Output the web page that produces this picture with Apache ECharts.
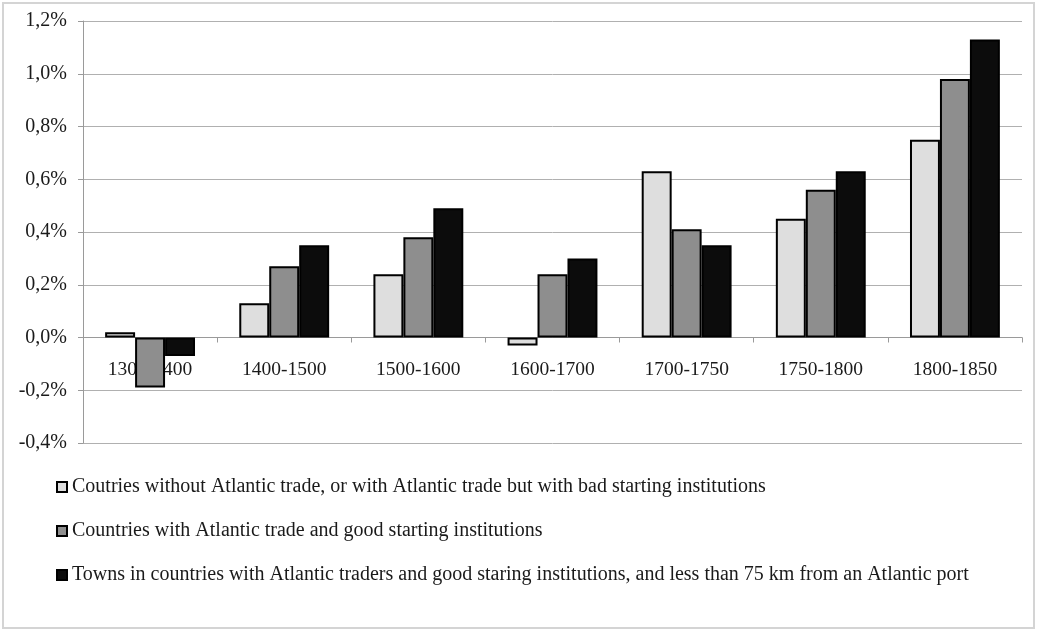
<!DOCTYPE html>
<html>
<head>
<meta charset="utf-8">
<script src="https://cdn.jsdelivr.net/npm/echarts@6/dist/echarts.min.js"></script>
<style>
html,body{margin:0;padding:0;background:#fff;}
#c{width:1038px;height:630px;}
</style>
</head>
<body>
<div id="c"></div>
<script>
const categories = ['1300-1400','1400-1500','1500-1600','1600-1700','1700-1750','1750-1800','1800-1850'];
const seriesNames = [
  'Coutries without Atlantic trade, or with Atlantic trade but with bad starting institutions',
  'Countries with Atlantic trade and good starting institutions',
  'Towns in countries with Atlantic traders and good staring institutions, and less than 75 km from an Atlantic port'
];
const noAtlantic = [0.02, 0.13, 0.24, -0.03, 0.63, 0.45, 0.75];
const atlanticGood = [-0.19, 0.27, 0.38, 0.24, 0.41, 0.56, 0.98];
const townsNearPort = [-0.07, 0.35, 0.49, 0.30, 0.35, 0.63, 1.13];
const yTicks = { min: -0.4, max: 1.2, interval: 0.2 };
const colors = ['#dedede', '#8e8e8e', '#0c0c0c'];

const chart = echarts.init(document.getElementById('c'), null, {renderer: 'canvas'});
const font = 'Liberation Serif';
const mk = (name, data, color) => ({
  name, type: 'bar', data,
  barGap: '0%', barCategoryGap: '33%',
  itemStyle: { color, borderColor: '#000', borderWidth: 2 },
  emphasis: { disabled: true }
});
chart.setOption({
  animation: false,
  textStyle: { fontFamily: font },
  graphic: [{
    type: 'rect', shape: { x: 3, y: 3, width: 1031, height: 625 },
    style: { fill: 'none', stroke: '#d4d4d4', lineWidth: 2 }, silent: true, z: -1
  }],
  grid: { left: 83, right: 16, top: 21, bottom: 187, containLabel: false },
  legend: {
    orient: 'vertical', left: 51, top: 472,
    itemWidth: 10, itemHeight: 10, itemGap: 24,
    icon: 'rect',
    selectedMode: false,
    textStyle: { fontFamily: font, fontSize: 20, color: '#1a1a1a', lineHeight: 20, padding: [0,0,0,0] },
    data: seriesNames
  },
  xAxis: {
    type: 'category', data: categories,
    axisLine: { onZero: true, lineStyle: { color: '#9a9a9a', width: 1 } },
    axisTick: { show: true, length: 5, inside: false, lineStyle: { color: '#9a9a9a' } },
    axisLabel: { fontFamily: font, fontSize: 19.5, color: '#1a1a1a', margin: -83 }
  },
  yAxis: {
    type: 'value', min: yTicks.min, max: yTicks.max, interval: yTicks.interval,
    axisLine: { show: true, lineStyle: { color: '#9a9a9a' } },
    axisTick: { show: true, length: 5, lineStyle: { color: '#9a9a9a' } },
    splitLine: { show: true, lineStyle: { color: '#b0b0b0', width: 1 } },
    axisLabel: {
      fontFamily: font, fontSize: 20, color: '#1a1a1a', margin: 16,
      formatter: v => (Math.round(v * 10) / 10).toFixed(1).replace('.', ',') + '%'
    }
  },
  series: [
    mk(seriesNames[0], noAtlantic, colors[0]),
    mk(seriesNames[1], atlanticGood, colors[1]),
    mk(seriesNames[2], townsNearPort, colors[2])
  ]
});
</script>
</body>
</html>
